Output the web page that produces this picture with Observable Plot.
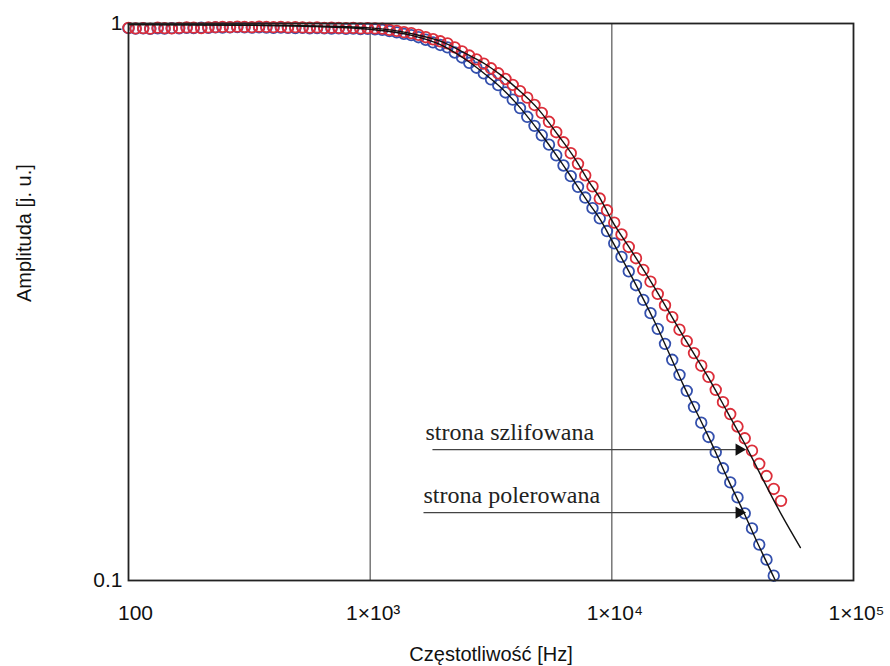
<!DOCTYPE html>
<html><head><meta charset="utf-8">
<script src="https://cdn.jsdelivr.net/npm/d3@7"></script>
<script src="https://cdn.jsdelivr.net/npm/@observablehq/plot@0.6"></script>
<style>
html,body{margin:0;padding:0;background:#fff;}
#chart{width:890px;height:666px;}
</style></head><body><div id="chart"></div>
<script>
// measured frequencies [Hz]
const freqHz = [100, 107, 115, 123, 132, 141, 151, 162, 174, 186,
  200, 214, 229, 245, 263, 282, 302, 324, 347, 372,
  398, 427, 457, 490, 525, 562, 603, 646, 692, 741,
  794, 851, 912, 977, 1047, 1122, 1202, 1288, 1380, 1479,
  1585, 1698, 1820, 1950, 2089, 2239, 2399, 2570, 2754, 2951,
  3162, 3388, 3631, 3890, 4169, 4467, 4786, 5129, 5495, 5888,
  6310, 6761, 7244, 7762, 8318, 8913, 9550, 10233, 10965, 11749,
  12589, 13490, 14454, 15488, 16596, 17783, 19055, 20417, 21878, 23442,
  25119, 26915, 28840, 30903, 33113, 35481, 38019, 40738, 43652, 46774, 50119];
// amplitude, ground side (red)
const ampSzlif = [0.982, 0.980, 0.981, 0.979, 0.983, 0.981, 0.980, 0.982, 0.984, 0.983,
  0.981, 0.984, 0.985, 0.986, 0.985, 0.987, 0.986, 0.985, 0.987, 0.986,
  0.985, 0.986, 0.984, 0.985, 0.984, 0.983, 0.984, 0.982, 0.983, 0.982,
  0.981, 0.982, 0.980, 0.981, 0.980,
  0.979, 0.974, 0.970, 0.965, 0.961, 0.954, 0.945, 0.937, 0.929, 0.921,
  0.906, 0.891, 0.876, 0.862, 0.847, 0.831, 0.814, 0.795, 0.776, 0.756,
  0.736, 0.714, 0.691, 0.666, 0.638, 0.612, 0.585, 0.560, 0.534, 0.510,
  0.485, 0.462, 0.439, 0.418, 0.397, 0.379, 0.361, 0.344, 0.327, 0.312,
  0.297, 0.282, 0.269, 0.256, 0.243, 0.232, 0.220, 0.209, 0.199, 0.189,
  0.180, 0.171, 0.162, 0.154, 0.146, 0.139];
// amplitude, polished side (blue)
const ampPoler = [0.981, 0.979, 0.980, 0.978, 0.980, 0.979, 0.981, 0.980, 0.982, 0.981,
  0.983, 0.982, 0.984, 0.983, 0.984, 0.985, 0.984, 0.983, 0.984, 0.983,
  0.982, 0.983, 0.982, 0.981, 0.982, 0.980, 0.981, 0.980, 0.979, 0.980,
  0.978, 0.979, 0.977, 0.978, 0.976,
  0.974, 0.969, 0.964, 0.958, 0.953, 0.945, 0.935, 0.925, 0.915, 0.906,
  0.887, 0.869, 0.850, 0.833, 0.814, 0.794, 0.775, 0.752, 0.730, 0.705,
  0.680, 0.655, 0.630, 0.606, 0.580, 0.556, 0.532, 0.509, 0.487, 0.466,
  0.447, 0.424, 0.403, 0.381, 0.359, 0.339, 0.319, 0.302, 0.283, 0.266,
  0.249, 0.234, 0.219, 0.205, 0.192, 0.181, 0.170, 0.159, 0.150, 0.141,
  0.132, 0.124, 0.116, 0.109, 0.102];
// fitted curves
const fitFreqSzlif = [100, 300, 600, 1000, 1500, 2000, 2500, 3000, 3500, 4000, 5000, 6000, 7000, 8000, 9000, 10000, 12000, 15000, 20000, 25000, 30000, 35000, 40000, 50000, 60300];
const fitAmpSzlif  = [0.996, 0.994, 0.990, 0.982, 0.958, 0.926, 0.882, 0.845, 0.806, 0.768, 0.699, 0.630, 0.574, 0.522, 0.483, 0.443, 0.392, 0.336, 0.272, 0.232, 0.201, 0.178, 0.159, 0.132, 0.1146];
const fitFreqPoler = [100, 300, 600, 1000, 1500, 2000, 2500, 3000, 3500, 4000, 5000, 6000, 7000, 8000, 9000, 10000, 12000, 15000, 20000, 25000, 30000, 35000, 40000, 47500];
const fitAmpPoler  = [0.996, 0.993, 0.987, 0.976, 0.951, 0.912, 0.860, 0.810, 0.765, 0.721, 0.640, 0.574, 0.520, 0.477, 0.443, 0.408, 0.353, 0.292, 0.222, 0.182, 0.153, 0.133, 0.117, 0.100];

const xTicks = [100, 1000, 10000, 100000];
const xTickLabels = ["100", "1×10³", "1×10⁴", "1×10⁵"];
const yTicks = [0.1, 1];
const yTickLabels = ["0.1", "1"];
const gridFreq = [1000, 10000];

const annLabels = ["strona szlifowana", "strona polerowana"];
const annTextFreq = [1694, 1662];
const annTextAmp = [0.1784, 0.1375];
const annLineFreq = [1810, 1662];
const annLineAmp = [0.1718, 0.1324];
const annTipFreq = [35700, 35700];
const annHeadFreq = [33600, 33600];

const xTitle = "Częstotliwość [Hz]";
const yTitle = "Amplituda [j. u.]";

const szlif = freqHz.map((f, i) => ({f, a: ampSzlif[i]}));
const poler = ampPoler.map((a, i) => ({f: freqHz[i], a}));
const fitS = fitFreqSzlif.map((f, i) => ({f, a: fitAmpSzlif[i]}));
const fitP = fitFreqPoler.map((f, i) => ({f, a: fitAmpPoler[i]}));
const ann = annLabels.map((label, i) => ({label, tx: annTextFreq[i], ty: annTextAmp[i],
  x1: annLineFreq[i], x2: annTipFreq[i], y: annLineAmp[i], hx: annHeadFreq[i]}));

const sans = "'Liberation Sans', Arial, sans-serif";
const serif = "'Liberation Serif', 'Times New Roman', serif";

const chart = Plot.plot({
  width: 890, height: 666,
  marginLeft: 128, marginRight: 37, marginTop: 23, marginBottom: 86,
  x: {type: "log", domain: [100, 100000]},
  y: {type: "log", domain: [0.1, 1]},
  style: {fontFamily: sans, background: "#fff", color: "#111"},
  marks: [
    Plot.ruleX(gridFreq, {stroke: "#555", strokeWidth: 1.2}),
    Plot.dot(poler, {x: "f", y: "a", r: 5.3, stroke: "#3450ad", strokeWidth: 1.8}),
    Plot.dot(szlif, {x: "f", y: "a", r: 5.3, stroke: "#dc2e3a", strokeWidth: 1.8}),
    Plot.line(fitP, {x: "f", y: "a", stroke: "#111", strokeWidth: 1.4, curve: "monotone-x"}),
    Plot.line(fitS, {x: "f", y: "a", stroke: "#111", strokeWidth: 1.4, curve: "monotone-x"}),
    Plot.link(ann, {x1: "x1", x2: "x2", y1: "y", y2: "y", stroke: "#444", strokeWidth: 1.1}),
    Plot.dot(ann, {x: "hx", y: "y", symbol: "triangle", rotate: 90, r: 4.5, fill: "#111", stroke: "none"}),
    Plot.text(ann, {x: "tx", y: "ty", text: "label", textAnchor: "start", lineAnchor: "bottom",
      fontFamily: serif, fontSize: 24, fill: "#222"}),
    Plot.frame({stroke: "#222", strokeWidth: 1.8}),
    Plot.axisX([xTicks[0]], {tickFormat: d => xTickLabels[xTicks.indexOf(d)], tickSize: 0, tickPadding: 25,
      fontSize: 21, dx: 7, label: null}),
    Plot.axisX(xTicks.slice(1), {tickFormat: d => xTickLabels[xTicks.indexOf(d)], tickSize: 0, tickPadding: 25,
      fontSize: 21, dx: 3, label: null}),
    Plot.axisY(yTicks, {tickFormat: d => yTickLabels[yTicks.indexOf(d)], tickSize: 0, tickPadding: 6,
      fontSize: 21, label: null}),
    Plot.text([xTitle], {text: d => d, frameAnchor: "bottom", dy: 74, fontSize: 20, lineAnchor: "middle"}),
    Plot.text([yTitle], {text: d => d, frameAnchor: "left", dx: -104, rotate: -90, fontSize: 20, lineAnchor: "middle"})
  ]
});
document.getElementById("chart").appendChild(chart);
</script>
</body></html>
